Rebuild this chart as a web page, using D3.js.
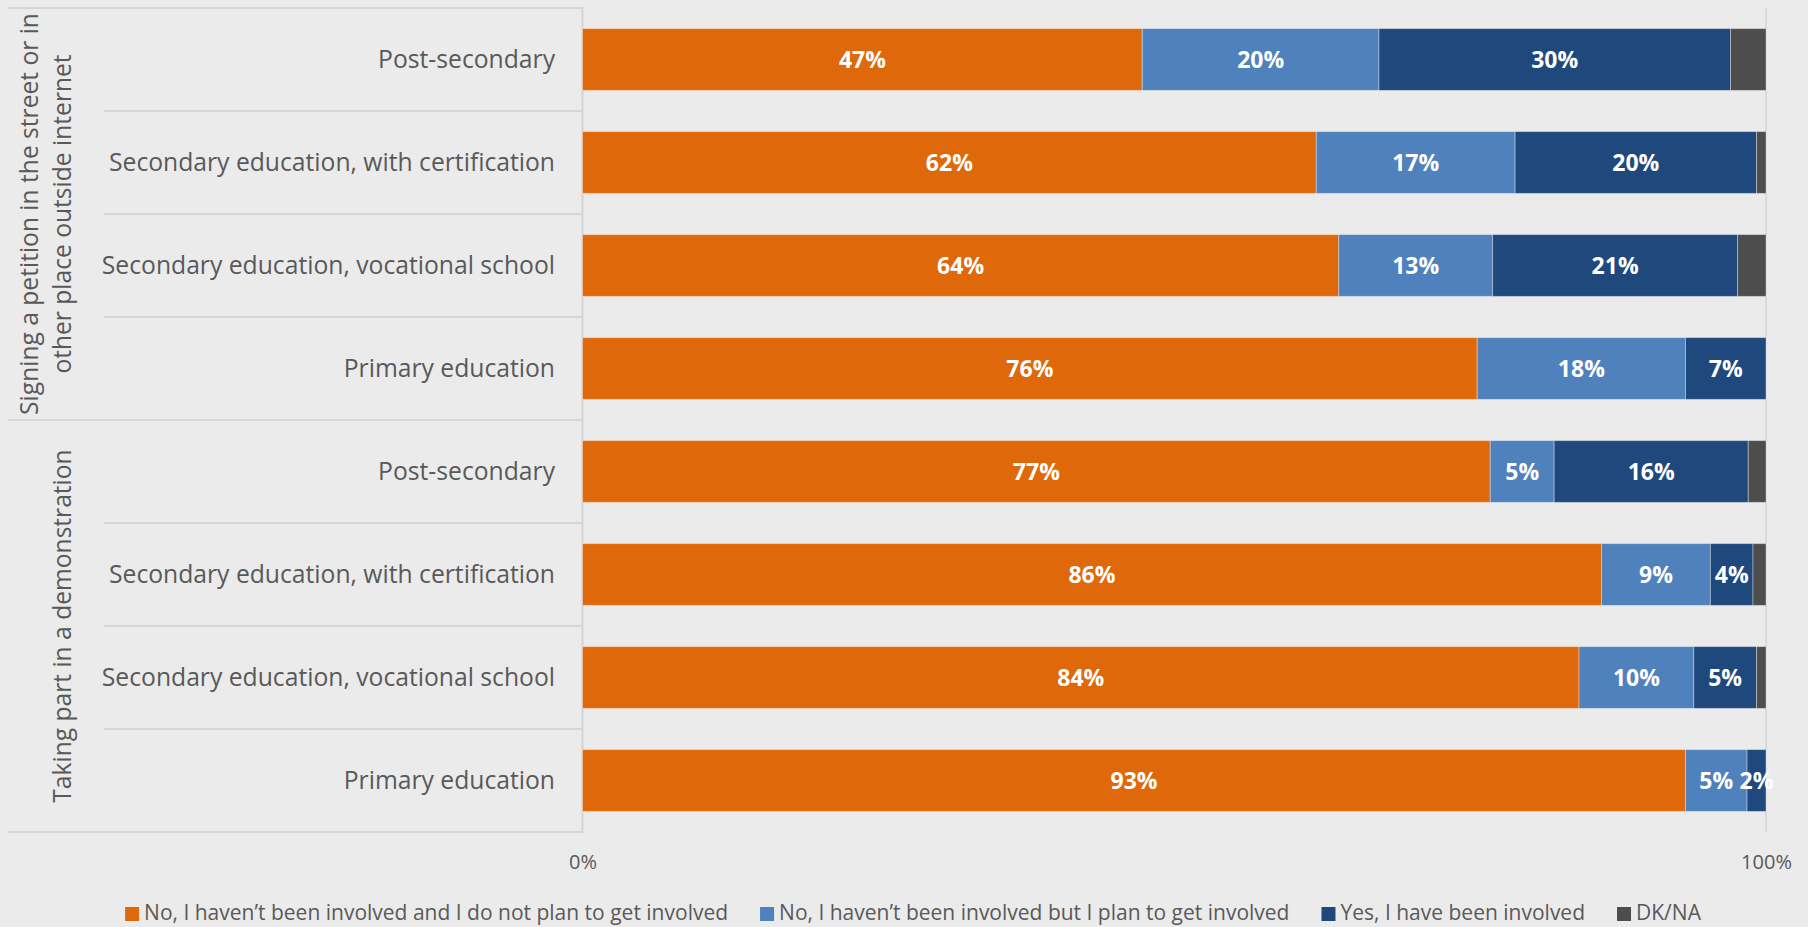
<!DOCTYPE html>
<html>
<head>
<meta charset="utf-8">
<script src="https://cdn.jsdelivr.net/npm/d3@7"></script>
<style>
  html, body { margin: 0; padding: 0; background: #ebebeb; }
  svg { display: block; }
  text { font-family: "Open Sans", "Noto Sans", sans-serif; }
</style>
</head>
<body>
<svg id="chart" width="1808" height="927"></svg>
<script>
// ---- data ----
const groups = ["Signing a petition in the street or in|other place outside internet", "Taking part in a demonstration"];
const categories = ["Post-secondary", "Secondary education, with certification", "Secondary education, vocational school", "Primary education"];
const seriesNames = ["No, I haven\u2019t been involved and I do not plan to get involved", "No, I haven\u2019t been involved but I plan to get involved", "Yes, I have been involved", "DK/NA"];
// values per row (group 1 rows then group 2 rows), in category order
const notPlan   = [47.3, 62.0, 63.9, 75.6, 76.7, 86.1, 84.2, 93.2];
const plan      = [20.0, 16.8, 13.0, 17.6, 5.4, 9.2, 9.7, 5.2];
const involved  = [29.7, 20.4, 20.7, 6.8, 16.4, 3.6, 5.3, 1.6];
const dkna      = [3.0, 0.8, 2.4, 0.0, 1.5, 1.1, 0.8, 0.0];
const tickValues = [0, 100];
const tickLabels = ["0%", "100%"];

const colors = ["#df690a", "#4f81bd", "#1f497d", "#4d4d4d"];
const series = [notPlan, plan, involved, dkna];

const svg = d3.select("#chart");
const rows = [];
groups.forEach((g, gi) => categories.forEach((c, ci) => rows.push({key: gi + "-" + ci, group: gi, cat: c, idx: gi * categories.length + ci})));

const x = d3.scaleLinear().domain([0, 100]).range([582.5, 1766]);
const y = d3.scaleBand().domain(rows.map(r => r.key)).range([8, 832]).paddingInner(0.4).paddingOuter(0.2);
const step = y.step();
const yTop = 8, yBottom = 832;

// frame lines
const lineColor = "#d6d6d6";
// vertical gridline at 100%
svg.append("line").attr("x1", x(100)).attr("x2", x(100)).attr("y1", yTop).attr("y2", yBottom)
  .attr("stroke", "#dadada").attr("stroke-width", 2);
const gl = svg.append("g").attr("stroke", lineColor).attr("stroke-width", 2);
// category separators
rows.forEach((r, i) => {
  if (i === 0) return;
  const yy = yTop + i * step;
  const full = (i % categories.length) === 0;
  gl.append("line").attr("x1", full ? 8 : 104).attr("x2", x(0)).attr("y1", yy).attr("y2", yy);
});
gl.append("line").attr("x1", 8).attr("x2", x(0)).attr("y1", yTop).attr("y2", yTop);
gl.append("line").attr("x1", 8).attr("x2", x(0)).attr("y1", yBottom).attr("y2", yBottom);
gl.append("line").attr("x1", x(0)).attr("x2", x(0)).attr("y1", yTop - 1).attr("y2", yBottom + 1);

// bars
const stacked = rows.map(r => {
  let acc = 0;
  return series.map((s, si) => {
    const v = s[r.idx];
    const seg = {key: r.key, si, x0: acc, x1: acc + v, v};
    acc += v;
    return seg;
  });
});
const barG = svg.append("g");
stacked.forEach(segs => {
  barG.selectAll(null).data(segs.filter(d => d.v > 0)).enter().append("rect")
    .attr("x", d => x(d.x0))
    .attr("width", d => x(d.x1) - x(d.x0))
    .attr("y", d => y(d.key))
    .attr("height", y.bandwidth())
    .attr("fill", d => colors[d.si])
    .attr("stroke", "rgba(255,255,255,0.35)")
    .attr("stroke-width", 1);
});
// data labels
stacked.forEach(segs => {
  barG.selectAll(null).data(segs.filter(d => d.si < 3 && d.v > 0)).enter().append("text")
    .attr("x", d => (x(d.x0) + x(d.x1)) / 2)
    .attr("y", d => y(d.key) + y.bandwidth() / 2)
    .attr("dy", "0.36em")
    .attr("text-anchor", "middle")
    .attr("fill", "#ffffff")
    .attr("font-weight", "bold")
    .attr("font-size", 23)
    .text(d => Math.round(d.v) + "%");
});

// category labels
svg.append("g").selectAll("text").data(rows).enter().append("text")
  .attr("x", 555)
  .attr("y", d => y(d.key) + y.bandwidth() / 2)
  .attr("dy", "0.36em")
  .attr("text-anchor", "end")
  .attr("fill", "#595959")
  .attr("font-size", 24.7)
  .text(d => d.cat);

// group labels (rotated)
groups.forEach((g, gi) => {
  const lines = g.split("|");
  const cy = yTop + (gi * categories.length + categories.length / 2) * step;
  const xs = lines.length === 2 ? [29, 62] : [62];
  lines.forEach((ln, li) => {
    svg.append("text")
      .attr("transform", `translate(${xs[li]},${cy}) rotate(-90)`)
      .attr("dy", "0.36em")
      .attr("text-anchor", "middle")
      .attr("fill", "#595959")
      .attr("font-size", 24.6)
      .text(ln);
  });
});

// x axis
const xAxis = d3.axisBottom(x).tickValues(tickValues).tickFormat((d, i) => tickLabels[i]).tickSize(0).tickPadding(0);
const ax = svg.append("g").attr("transform", `translate(0, 855)`).call(xAxis);
ax.select(".domain").remove();
ax.selectAll("text").attr("font-size", 20).attr("fill", "#595959").attr("font-family", "\"Open Sans\", sans-serif");

// legend
const leg = svg.append("g");
const items = leg.selectAll("g").data(seriesNames).enter().append("g");
items.append("rect").attr("width", 14).attr("height", 14).attr("y", -13).attr("fill", (d, i) => colors[i]);
items.append("text").attr("x", 19).attr("y", 0).attr("font-size", 21).attr("fill", "#595959").text(d => d);
let cx = 0;
const offs = [];
items.each(function(d, i) {
  const w = d3.select(this).select("text").node().getComputedTextLength();
  offs.push(cx);
  cx += 19 + w + 32;
});
const totalW = cx - 32;
const startX = 913 - totalW / 2;
items.attr("transform", (d, i) => `translate(${startX + offs[i]}, 920)`);
</script>
</body>
</html>
